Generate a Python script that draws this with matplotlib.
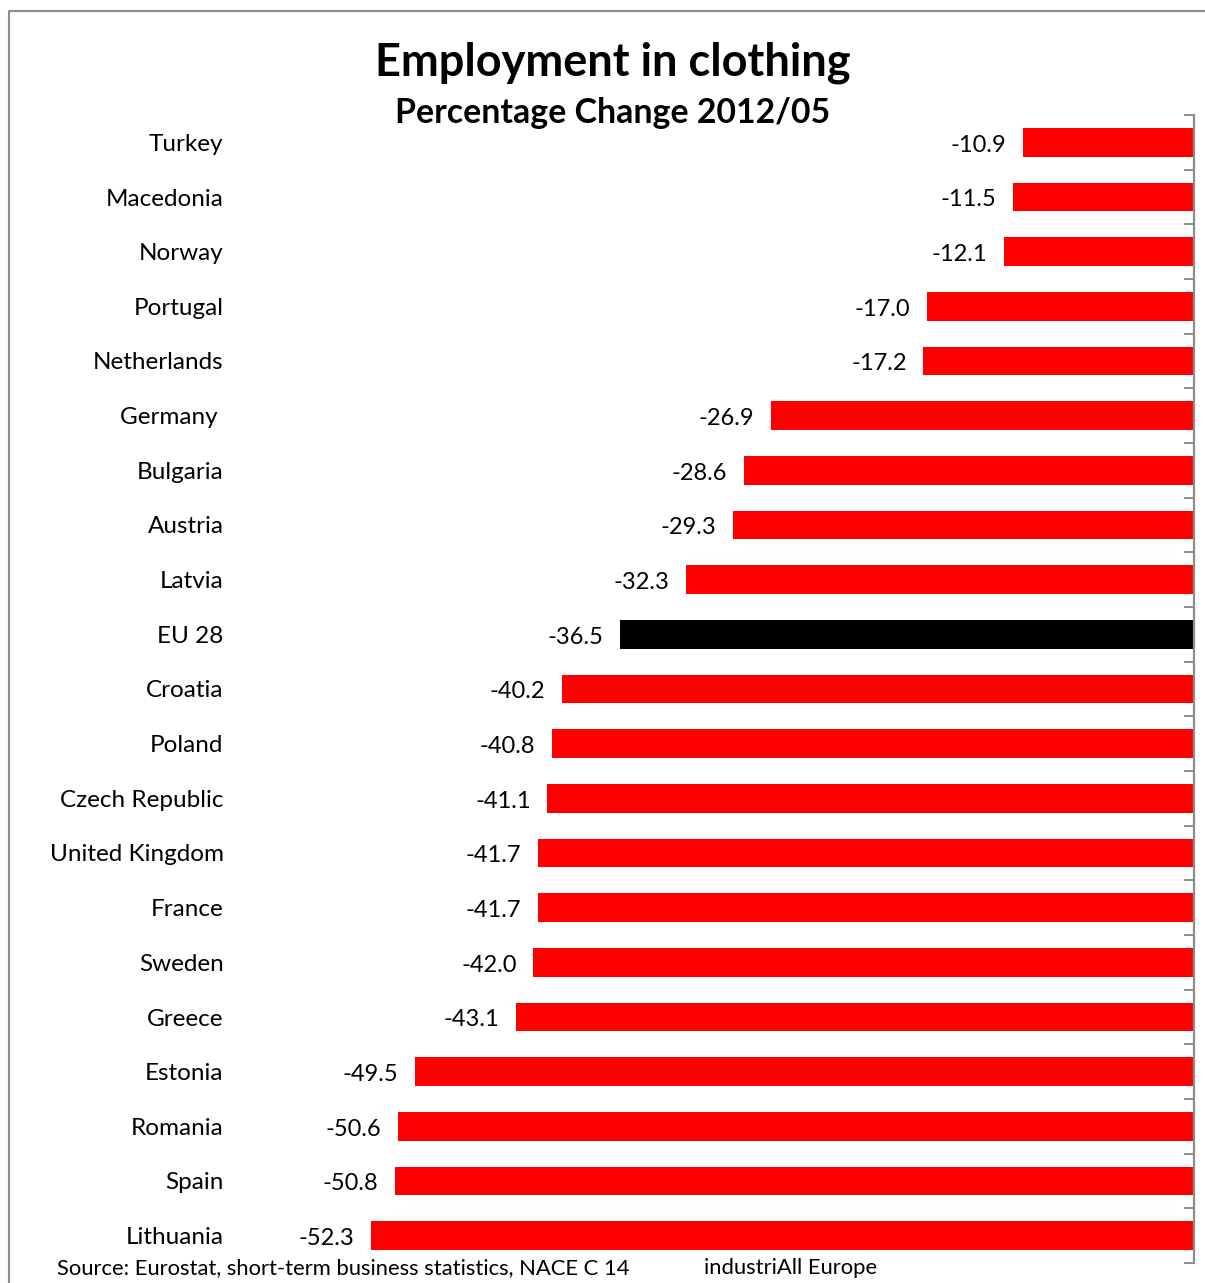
import matplotlib
matplotlib.use("Agg")
import matplotlib.pyplot as plt
from matplotlib.lines import Line2D

countries = ["Turkey", "Macedonia", "Norway", "Portugal", "Netherlands", "Germany ",
             "Bulgaria", "Austria", "Latvia", "EU 28", "Croatia", "Poland",
             "Czech Republic", "United Kingdom", "France", "Sweden", "Greece",
             "Estonia", "Romania", "Spain", "Lithuania"]
changes = [-10.9, -11.5, -12.1, -17.0, -17.2, -26.9, -28.6, -29.3, -32.3, -36.5,
           -40.2, -40.8, -41.1, -41.7, -41.7, -42.0, -43.1, -49.5, -50.6, -50.8, -52.3]
highlight = "EU 28"

W, H = 1205, 1283
DPI = 100
plt.rcParams["font.family"] = ["Lato", "DejaVu Sans"]

fig = plt.figure(figsize=(W / DPI, H / DPI), dpi=DPI)

# plot area in pixel coordinates
left_px, right_px, top_px, bottom_px = 250, 1194, 115, 1263
ax = fig.add_axes([left_px / W, 1 - bottom_px / H,
                   (right_px - left_px) / W, (bottom_px - top_px) / H])

y = list(range(len(countries)))
colors = ["black" if c == highlight else "#FF0000" for c in countries]
ax.barh(y, changes, height=0.53, color=colors, zorder=2)

for yi, v in zip(y, changes):
    ax.annotate(f"{v:.1f}", xy=(v, yi), xytext=(-12, -2), textcoords="offset points",
                ha="right", va="center", fontsize=17, color="black")

ax.set_xlim(-60, 0)
ax.set_ylim(len(countries) - 0.5, -0.5)

ax.set_yticks(y)
ax.set_yticklabels(countries, fontsize=17.5)
ax.tick_params(axis="y", which="major", length=0, pad=19)
ax.set_yticks([i - 0.5 for i in range(len(countries) + 1)], minor=True)
ax.tick_params(axis="y", which="minor", left=False, right=True, direction="in",
               length=7, width=1.4, color="#8c8c8c")
ax.set_xticks([])

for side in ["left", "top", "bottom"]:
    ax.spines[side].set_visible(False)
ax.spines["right"].set_color("#8c8c8c")
ax.spines["right"].set_linewidth(1.6)

fig.text(613 / W, 1 - 63 / H, "Employment in clothing", ha="center", va="center",
         fontsize=32.5, fontweight="bold")
fig.text(613 / W, 1 - 113 / H, "Percentage Change 2012/05", ha="center", va="center",
         fontsize=24.4, fontweight="bold")
fig.text(57 / W, 1 - 1268 / H, "Source: Eurostat, short-term business statistics, NACE C 14",
         ha="left", va="center", fontsize=15.8)
fig.text(704 / W, 1 - 1268 / H, "industriAll Europe", ha="left", va="center", fontsize=15.8)

# chart frame
fig.add_artist(Line2D([8.5 / W, 8.5 / W, 1.0], [0, 1 - 10.5 / H, 1 - 10.5 / H],
                      transform=fig.transFigure, color="#8c8c8c", lw=1.5))

fig.savefig("out.png", dpi=DPI, facecolor="white")
